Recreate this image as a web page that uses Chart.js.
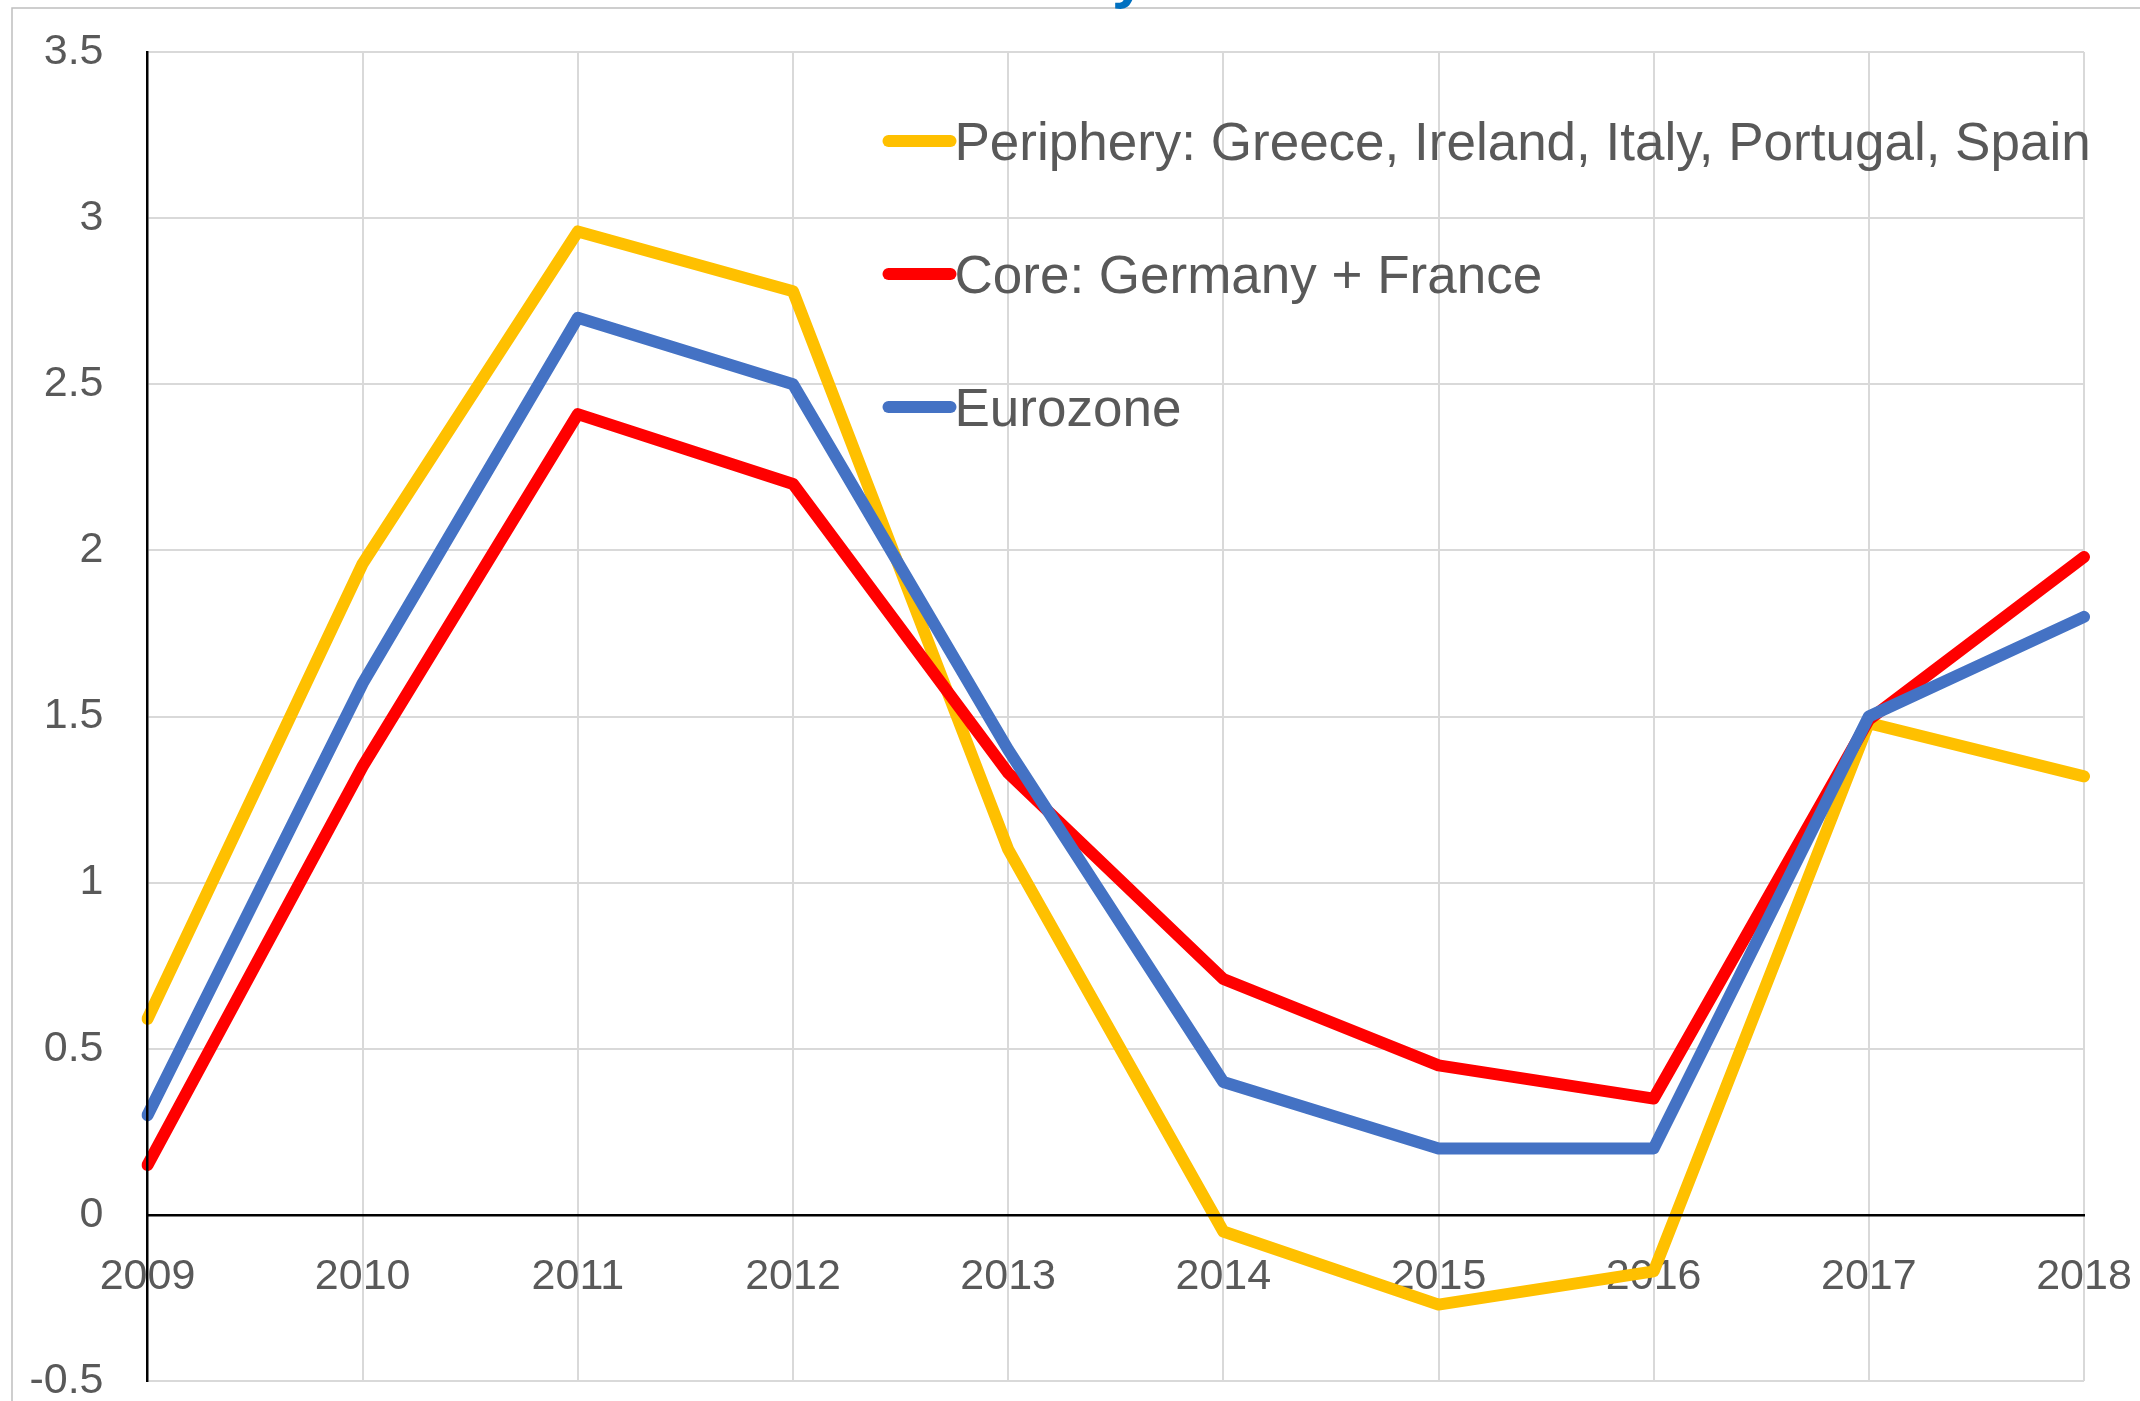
<!DOCTYPE html>
<html>
<head>
<meta charset="utf-8">
<script src="https://cdn.jsdelivr.net/npm/chart.js@4.4.1/dist/chart.umd.min.js"></script>
<style>
  html, body { margin: 0; padding: 0; background: #fff; }
  #wrap { position: relative; width: 2140px; height: 1401px; overflow: hidden; }
</style>
</head>
<body>
<div id="wrap"><canvas id="chart" width="2140" height="1401"></canvas></div>
<script>
// Years on the category axis
const years = ["2009", "2010", "2011", "2012", "2013", "2014", "2015", "2016", "2017", "2018"];

// Series values
const periphery = [0.59, 1.96, 2.96, 2.78, 1.10, -0.05, -0.27, -0.17, 1.48, 1.32];
const core = [0.15, 1.35, 2.41, 2.20, 1.33, 0.71, 0.45, 0.35, 1.49, 1.98];
const eurozone = [0.30, 1.60, 2.70, 2.50, 1.40, 0.40, 0.20, 0.20, 1.50, 1.80];

// Series names as shown in the legend
const seriesNames = [
    "Periphery: Greece, Ireland, Italy, Portugal, Spain",
    "Core: Germany + France",
    "Eurozone"
];

const FONT = '"Liberation Sans", Arial, sans-serif';
const TEXT_COLOR = "#595959";
const GRID_COLOR = "#D9D9D9";

// Outer frame lines plus the clipped title descender at the very top
const framePlugin = {
    id: "frame",
    beforeDraw(chart) {
        const ctx = chart.ctx;
        ctx.save();
        ctx.fillStyle = "#ffffff";
        ctx.fillRect(0, 0, chart.width, chart.height);
        ctx.strokeStyle = "#BFBFBF";
        ctx.lineWidth = 1.5;
        ctx.beginPath();
        ctx.moveTo(12, chart.height);
        ctx.lineTo(12, 8);
        ctx.lineTo(chart.width, 8);
        ctx.stroke();
        // only the bottom of the title's last letter is visible
        ctx.fillStyle = "#0070C0";
        ctx.font = "bold 62px " + FONT;
        ctx.textBaseline = "alphabetic";
        ctx.fillText("y", 1112, -4);
        ctx.restore();
    }
};

// Legend drawn inside the plot area: short thick line then the label
const legendPlugin = {
    id: "insideLegend",
    afterDatasetsDraw(chart) {
        const ctx = chart.ctx;
        const area = chart.chartArea;
        const x0 = area.left + 741;
        const x1 = area.left + 803;
        const textX = area.left + 807;
        ctx.save();
        ctx.font = "53px " + FONT;
        ctx.textBaseline = "alphabetic";
        chart.data.datasets.forEach((ds, i) => {
            const y = area.top + 89 + i * 133;
            ctx.strokeStyle = ds.borderColor;
            ctx.lineWidth = 12;
            ctx.lineCap = "round";
            ctx.beginPath();
            ctx.moveTo(x0, y);
            ctx.lineTo(x1, y);
            ctx.stroke();
            ctx.fillStyle = TEXT_COLOR;
            ctx.fillText(ds.label, textX, y + 19);
        });
        ctx.restore();
    }
};

const lineStyle = {
    borderWidth: 12,
    pointRadius: 0,
    pointHoverRadius: 0,
    tension: 0,
    borderJoinStyle: "round",
    borderCapStyle: "round",
    fill: false
};

const ctx = document.getElementById("chart").getContext("2d");
new Chart(ctx, {
    type: "line",
    data: {
        labels: years,
        datasets: [
            { ...lineStyle, label: seriesNames[0], data: periphery, borderColor: "#FFC000", order: 3 },
            { ...lineStyle, label: seriesNames[1], data: core, borderColor: "#FF0000", order: 2 },
            { ...lineStyle, label: seriesNames[2], data: eurozone, borderColor: "#4472C4", order: 1 }
        ]
    },
    options: {
        responsive: false,
        animation: false,
        devicePixelRatio: 1,
        layout: { padding: { left: 0, top: 52, right: 56, bottom: 20 } },
        plugins: {
            legend: { display: false },
            tooltip: { enabled: false },
            title: { display: false }
        },
        scales: {
            x: {
                type: "category",
                position: { y: 0 },
                offset: false,
                grid: {
                    drawTicks: false,
                    lineWidth: 2,
                    color: (c) => (c.index === 0 ? "rgba(0,0,0,0)" : GRID_COLOR)
                },
                border: { display: true, color: "#000000", width: 2.5, z: 1 },
                ticks: {
                    font: { family: FONT, size: 43 },
                    color: TEXT_COLOR,
                    padding: 36,
                    maxRotation: 0,
                    autoSkip: false
                },
                afterFit: (scale) => {
                    // labels may hang outside the plot like in the original
                    scale.paddingLeft = 0;
                    scale.paddingRight = 0;
                    scale.paddingTop = 0;
                    scale.paddingBottom = 0;
                }
            },
            y: {
                min: -0.5,
                max: 3.5,
                position: "left",
                grid: {
                    drawTicks: false,
                    lineWidth: 2,
                    color: (c) => (c.tick && c.tick.value === 0 ? "rgba(0,0,0,0)" : GRID_COLOR)
                },
                border: { display: true, color: "#000000", width: 2.5, z: 1 },
                ticks: {
                    stepSize: 0.5,
                    font: { family: FONT, size: 43 },
                    color: TEXT_COLOR,
                    padding: 44,
                    callback: (v) => String(v)
                },
                afterFit: (scale) => {
                    scale.width = 147.5;
                    scale.paddingTop = 0;
                    scale.paddingBottom = 0;
                }
            }
        }
    },
    plugins: [framePlugin, legendPlugin]
});
</script>
</body>
</html>
